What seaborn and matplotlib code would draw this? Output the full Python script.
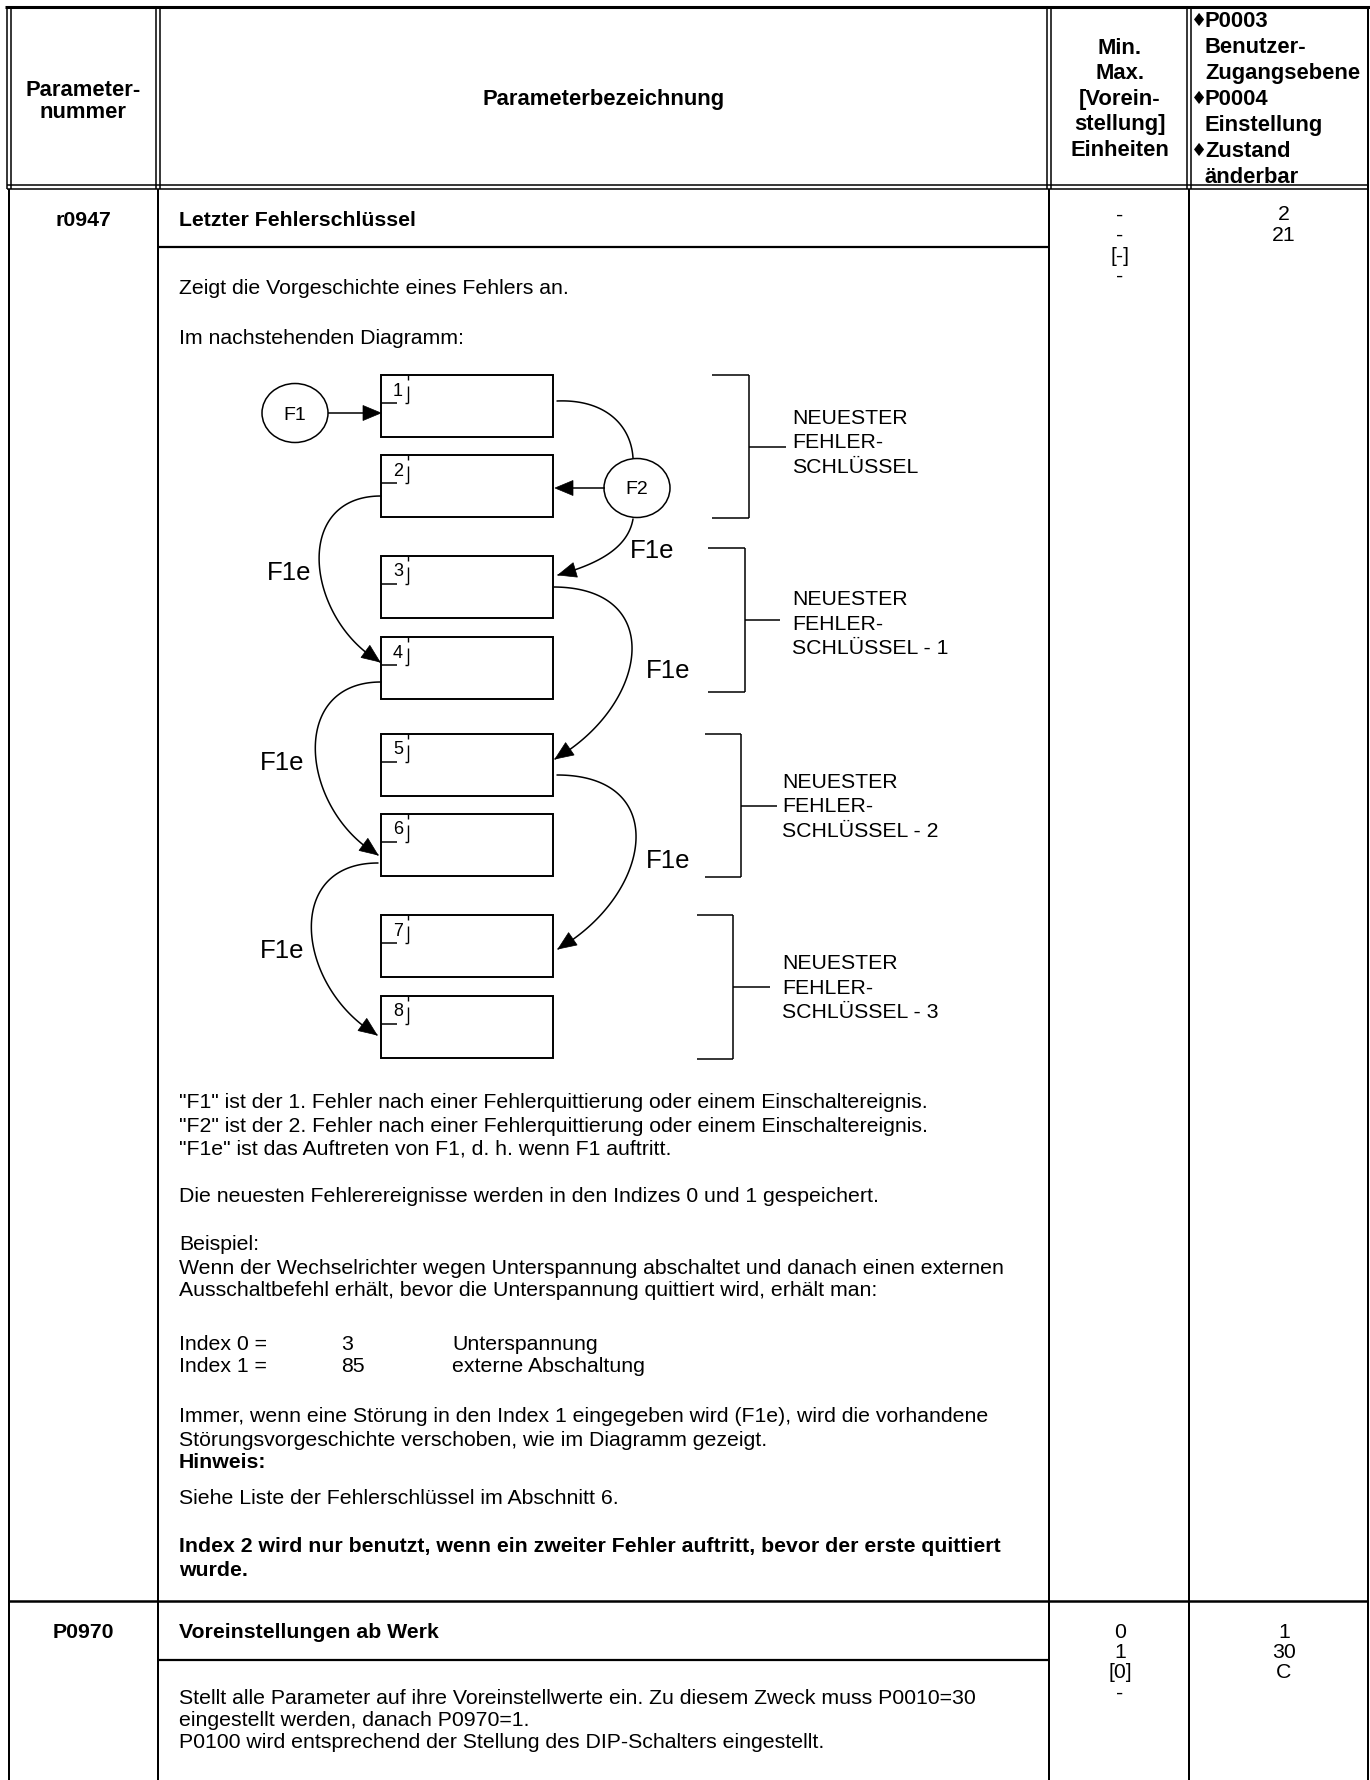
import numpy as np
import matplotlib
matplotlib.use("Agg")
import matplotlib.pyplot as plt
from matplotlib.patches import Rectangle, Ellipse, Polygon
import seaborn as sns

sns.set_theme(style="white")
plt.rcParams['font.family'] = ['Liberation Sans', 'DejaVu Sans']

# ---- table content ----
head_nummer = ["Parameter-", "nummer"]
head_bez = "Parameterbezeichnung"
head_minmax = ["Min.", "Max.", "[Vorein-", "stellung]", "Einheiten"]
head_access = ["P0003", "Benutzer-", "Zugangsebene", "P0004", "Einstellung", "Zustand", "änderbar"]
head_diamond = [True, False, False, True, False, True, False]

param_ids = ["r0947", "P0970"]
param_titles = ["Letzter Fehlerschlüssel", "Voreinstellungen ab Werk"]
param_minmax = [["-", "-", "[-]", "-"], ["0", "1", "[0]", "-"]]
param_access = [["2", "21"], ["1", "30", "C"]]

r0947_intro = ["Zeigt die Vorgeschichte eines Fehlers an.",
               "Im nachstehenden Diagramm:"]
r0947_lines = [
    '"F1" ist der 1. Fehler nach einer Fehlerquittierung oder einem Einschaltereignis.',
    '"F2" ist der 2. Fehler nach einer Fehlerquittierung oder einem Einschaltereignis.',
    '"F1e" ist das Auftreten von F1, d. h. wenn F1 auftritt.',
    'Die neuesten Fehlerereignisse werden in den Indizes 0 und 1 gespeichert.',
    'Beispiel:',
    'Wenn der Wechselrichter wegen Unterspannung abschaltet und danach einen externen',
    'Ausschaltbefehl erhält, bevor die Unterspannung quittiert wird, erhält man:',
    'Immer, wenn eine Störung in den Index 1 eingegeben wird (F1e), wird die vorhandene',
    'Störungsvorgeschichte verschoben, wie im Diagramm gezeigt.',
    'Hinweis:',
    'Siehe Liste der Fehlerschlüssel im Abschnitt 6.',
    'Index 2 wird nur benutzt, wenn ein zweiter Fehler auftritt, bevor der erste quittiert',
    'wurde.',
]
r0947_bold = [False] * 9 + [True, False, True, True]

index_labels = ["Index 0 =", "Index 1 ="]
index_codes = ["3", "85"]
index_names = ["Unterspannung", "externe Abschaltung"]

p0970_lines = [
    "Stellt alle Parameter auf ihre Voreinstellwerte ein. Zu diesem Zweck muss P0010=30",
    "eingestellt werden, danach P0970=1.",
    "P0100 wird entsprechend der Stellung des DIP-Schalters eingestellt.",
]

# ---- diagram content ----
box_numbers = [1, 2, 3, 4, 5, 6, 7, 8]
event_names = ["F1", "F2"]
shift_label = "F1e"
bracket_labels = [["NEUESTER", "FEHLER-", "SCHLÜSSEL"],
                  ["NEUESTER", "FEHLER-", "SCHLÜSSEL - 1"],
                  ["NEUESTER", "FEHLER-", "SCHLÜSSEL - 2"],
                  ["NEUESTER", "FEHLER-", "SCHLÜSSEL - 3"]]

# ---- layout (pixels) ----
W, H = 1370, 1780
XL, XC1, XC2, XC3, XR = 9, 158, 1049, 1189, 1368
FS = 15.3
FS_HEAD = 15.8

fig = plt.figure(figsize=(W / 100, H / 100), dpi=100)
ax = fig.add_axes([0, 0, 1, 1])


def line(xs, ys, lw=1.44):
    ax.plot(xs, ys, color='black', lw=lw, solid_capstyle='butt')


def txt(x, y, s, size=FS, bold=False, ha='left'):
    ax.text(x, y, s, fontsize=size, fontweight='bold' if bold else 'normal',
            ha=ha, va='center_baseline', color='black')


def arrowhead(tip, direction, length=18, half=7.5):
    d = np.asarray(direction, float)
    d = d / np.linalg.norm(d)
    p = np.array([-d[1], d[0]])
    tip = np.asarray(tip, float)
    base = tip - d * length
    ax.add_patch(Polygon([tip, base + p * half, base - p * half], closed=True,
                         fc='black', ec='black', lw=0.5))


def bezier(p0, p1, p2, p3, n=120):
    t = np.linspace(0, 1, n)[:, None]
    p0, p1, p2, p3 = (np.asarray(p, float) for p in (p0, p1, p2, p3))
    return (1 - t) ** 3 * p0 + 3 * (1 - t) ** 2 * t * p1 + 3 * (1 - t) * t ** 2 * p2 + t ** 3 * p3


def draw_curve(pts, arrow=True):
    sns.lineplot(x=pts[:, 0], y=pts[:, 1], sort=False, estimator=None,
                 color='black', lw=1.1, ax=ax)
    if arrow:
        arrowhead(pts[-1], pts[-1] - pts[-12])


def side_curve(start, end, extreme):
    x0, y0 = start
    x1, y1 = end
    sgn = 1 if extreme > x0 else -1
    total = abs(extreme - (x0 + x1) / 2) / 0.375 * 0.95
    c1, c2 = 0.55 * total, 0.45 * total
    L = c2 / 0.866
    return bezier(start, (x0 + sgn * c1, y0), (x1 + sgn * c2, y1 - 0.5 * L), end)


# ---- table frame ----
line([5, 1370], [6.5, 6.5], lw=2.2)
for x in (7, 11, 156, 160, 1047, 1051, 1187, 1191):
    line([x, x], [6, 189], lw=1.1)
line([XR, XR], [6, 189], lw=1.44)
line([7, XR], [185, 185], lw=1.1)
line([7, XR], [189, 189], lw=1.1)
for x in (XL, XC1, XC2, XC3, XR):
    line([x, x], [189, H], lw=1.44)
line([XC1, XC2], [247, 247], lw=1.6)
line([XL, XR], [1601, 1601], lw=1.8)
line([XC1, XC2], [1660, 1660], lw=1.6)

# ---- header text ----
for s, y in zip(head_nummer, [88, 110]):
    txt(83, y, s, size=FS_HEAD, bold=True, ha='center')
txt(604, 97, head_bez, size=FS_HEAD, bold=True, ha='center')
for s, y in zip(head_minmax, [46, 71, 97, 122, 148]):
    txt(1120, y, s, size=FS_HEAD, bold=True, ha='center')
for s, dia, y in zip(head_access, head_diamond, [19, 45, 71, 97, 123, 149, 175]):
    if dia:
        ax.text(1191, y, "\u2666", fontsize=13, ha='left', va='center_baseline',
                family=['DejaVu Sans'], color='black')
    txt(1205, y, s, size=FS_HEAD, bold=True)

# ---- row titles and values ----
row_y = [218, 1630]
value_offset = [-5, 0]
for pid, title, mm, acc, y, off in zip(param_ids, param_titles, param_minmax,
                                       param_access, row_y, value_offset):
    txt(83, y, pid, bold=True, ha='center')
    txt(179, y, title, bold=True)
    for i, s in enumerate(mm):
        txt(1120, y + off + i * 20.5, s, ha='center')
    for i, s in enumerate(acc):
        txt(1284, y + off + i * 20.5, s, ha='center')

# ---- r0947 body ----
for s, y in zip(r0947_intro, [287, 336]):
    txt(179, y, s)
body_y = [1101, 1124, 1147, 1195, 1243, 1266, 1289, 1415, 1438, 1460, 1497, 1545, 1568]
for s, b, y in zip(r0947_lines, r0947_bold, body_y):
    txt(179, y, s, bold=b)
for lab, code, name, y in zip(index_labels, index_codes, index_names, [1342, 1365]):
    txt(179, y, lab)
    txt(341, y, code)
    txt(452, y, name)

# ---- P0970 body ----
for s, y in zip(p0970_lines, [1697, 1719, 1741]):
    txt(179, y, s)

# ---- diagram: register boxes ----
box_left, box_w, box_h = 381, 172, 62
box_tops = [375, 455, 556, 637, 734, 814, 915, 996]
for n, top in zip(box_numbers, box_tops):
    ax.add_patch(Rectangle((box_left, top), box_w, box_h, fill=False, ec='black', lw=1.4))
    line([box_left, box_left + 16], [top + 28, top + 28], lw=1.1)
    line([box_left + 27, box_left + 27], [top, top + 5], lw=1.0)
    line([box_left + 27, box_left + 27], [top + 11, top + 28], lw=1.0)
    line([box_left + 24, box_left + 27], [top + 28, top + 28], lw=1.0)
    txt(box_left + 17, top + 14, str(n), size=13, ha='center')

# ---- diagram: events ----
event_xy = [(295, 413), (637, 488)]
for name, (cx, cy) in zip(event_names, event_xy):
    ax.add_patch(Ellipse((cx, cy), 66, 59, fill=False, ec='black', lw=1.1))
    txt(cx, cy, name, size=14, ha='center')

line([328, 365], [413, 413], lw=1.1)
arrowhead((381, 413), (1, 0))
line([605, 570], [488, 488], lw=1.1)
arrowhead((555, 488), (-1, 0))

# box 1 -> F2, F2 -> box 3
draw_curve(bezier((557, 401), (605, 399), (631, 425), (633, 458)), arrow=False)
draw_curve(bezier((633, 519), (628, 548), (598, 564), (558, 575)))

# shifts between boxes
left_curves = [((381, 496), (380, 662), 316),
               ((381, 682), (378, 855), 312),
               ((378, 863), (377, 1035), 308)]
right_curves = [((553, 587), (555, 759), 636),
                ((557, 775), (558, 949), 640)]
for s, e, xe in left_curves + right_curves:
    draw_curve(side_curve(s, e, xe))

label_xy = [(652, 548), (289, 570), (668, 669), (282, 760), (668, 858), (282, 948)]
for x, y in label_xy:
    txt(x, y, shift_label, size=18.5, ha='center')

# ---- diagram: brackets ----
brackets = [(375, 518, 712, 749, 786, 792, 441),
            (548, 692, 708, 745, 780, 792, 622),
            (734, 877, 705, 741, 777, 782, 805),
            (915, 1059, 697, 733, 770, 782, 986)]
for labels, (top, bot, xa, xv, xt, xtext, ymid) in zip(bracket_labels, brackets):
    line([xa, xv], [top, top], lw=1.1)
    line([xa, xv], [bot, bot], lw=1.1)
    line([xv, xv], [top, bot], lw=1.1)
    line([xv, xt], [(top + bot) / 2, (top + bot) / 2], lw=1.1)
    for i, s in enumerate(labels):
        txt(xtext, ymid + (i - 1) * 24.5, s, size=15.3)

ax.set_xlim(0, W)
ax.set_ylim(H, 0)
ax.axis('off')
fig.savefig("out.png", dpi=100)
